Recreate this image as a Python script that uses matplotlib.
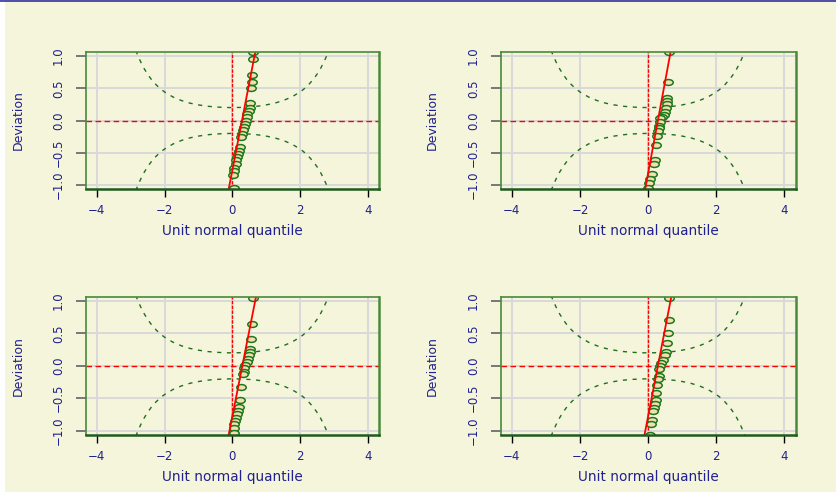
import matplotlib
matplotlib.use('Agg')
import matplotlib.pyplot as plt
from matplotlib.path import Path
from matplotlib.transforms import Affine2D
from matplotlib.lines import Line2D
from matplotlib.patches import Rectangle

# worm plot points: unit normal quantile / deviation
tl_q = [0.62, 0.61, 0.59, 0.58, 0.56, 0.53, 0.51, 0.50, 0.44, 0.42, 0.39, 0.36, 0.34,
        0.31, 0.28, 0.26, 0.22, 0.19, 0.16, 0.14, 0.12, 0.10, 0.06, 0.04, 0.02, 0.05]
tl_dev = [1.06, 0.95, 0.71, 0.60, 0.50, 0.27, 0.19, 0.14, 0.10, 0.06, 0.00, -0.05, -0.10,
          -0.15, -0.21, -0.26, -0.41, -0.47, -0.52, -0.57, -0.62, -0.68, -0.73, -0.78, -0.85, -1.04]

tr_q = [0.60, 0.59, 0.56, 0.55, 0.55, 0.53, 0.50, 0.46, 0.42, 0.36, 0.34, 0.31, 0.33,
        0.29, 0.27, 0.24, 0.20, 0.17, 0.10, 0.06, 0.03, 0.00]
tr_dev = [1.06, 0.60, 0.35, 0.30, 0.25, 0.20, 0.13, 0.09, 0.06, 0.04, -0.02, -0.08, -0.12,
          -0.17, -0.24, -0.38, -0.62, -0.68, -0.83, -0.91, -0.97, -1.04]

bl_q = [0.60, 0.58, 0.56, 0.53, 0.51, 0.50, 0.46, 0.43, 0.38, 0.35, 0.33, 0.31, 0.26,
        0.24, 0.21, 0.16, 0.14, 0.11, 0.09, 0.06, 0.04, 0.04]
bl_dev = [1.04, 0.64, 0.41, 0.26, 0.21, 0.16, 0.11, 0.06, 0.02, -0.04, -0.09, -0.13, -0.32,
          -0.52, -0.64, -0.70, -0.75, -0.80, -0.85, -0.90, -0.96, -1.03]

br_q = [0.60, 0.60, 0.58, 0.55, 0.51, 0.48, 0.43, 0.38, 0.35, 0.33, 0.31, 0.28, 0.26,
        0.24, 0.22, 0.19, 0.16, 0.14, 0.11, 0.07, 0.04]
br_dev = [1.05, 0.70, 0.50, 0.36, 0.21, 0.16, 0.09, 0.04, -0.01, -0.05, -0.16, -0.21, -0.29,
          -0.42, -0.52, -0.59, -0.65, -0.70, -0.83, -0.90, -1.06]

# fitted line: quantile where it leaves the bottom and the top of the box
fit_dev = [-1.07, 1.07]
tl_fit = [-0.11, 0.68]
tr_fit = [-0.09, 0.66]
bl_fit = [-0.11, 0.70]
br_fit = [-0.11, 0.68]

# confidence band (upper half, right side)
ci_q = [0, 0.25, 0.5, 0.75, 1.0, 1.25, 1.5, 1.75, 2.0, 2.1, 2.25, 2.4, 2.5, 2.6, 2.7, 2.8, 2.85]
ci_dev = [0.200, 0.203, 0.210, 0.222, 0.242, 0.269, 0.309, 0.364, 0.442, 0.482, 0.554,
          0.644, 0.717, 0.802, 0.903, 1.020, 1.087]

x_ticks = [-4, -2, 0, 2, 4]
y_ticks = [-1.0, -0.5, 0.0, 0.5, 1.0]

BEIGE = '#F5F5DC'
NAVY = '#202090'
GREEN = '#1f6f1f'
NARROW = ['Liberation Sans Narrow', 'DejaVu Sans']

W, H = 836, 492
fig = plt.figure(figsize=(W / 100, H / 100), dpi=100, facecolor=BEIGE)
fig.patches.append(Rectangle((0, 0), 5 / W, 1, transform=fig.transFigure,
                             facecolor='white', edgecolor='none'))
fig.lines.append(Line2D([0, 1], [1 - 0.8 / H, 1 - 0.8 / H], transform=fig.transFigure,
                        color='#3030a0', lw=1.2))

# ellipse marker (the circles are squashed in the reference)
ell = Path.unit_circle().transformed(Affine2D().scale(1.0, 0.62))

ci_x = [-v for v in ci_q[::-1]] + ci_q[1:]
ci_y = ci_dev[::-1] + ci_dev[1:]

# pixel boxes: left, right, top, bottom
boxes = [(86, 379, 51.7, 189.3), (501, 795.7, 51.7, 189.3),
         (86, 379, 296.7, 435), (501, 795.7, 296.7, 435)]
series = [(tl_q, tl_dev, tl_fit), (tr_q, tr_dev, tr_fit),
          (bl_q, bl_dev, bl_fit), (br_q, br_dev, br_fit)]

for (l, r, t, b), (qs, ds, fit) in zip(boxes, series):
    ax = fig.add_axes([l / W, 1 - b / H, (r - l) / W, (b - t) / H])
    ax.set_facecolor(BEIGE)
    ax.set_xlim(-4.32, 4.33)
    ax.set_ylim(-1.067, 1.067)
    ax.set_xticks(x_ticks)
    ax.set_yticks(y_ticks)
    ax.set_xticklabels(['\u22124', '\u22122', '0', '2', '4'])
    ax.set_yticklabels(['\u22121.0', '\u22120.5', '0.0', '0.5', '1.0'])
    ax.grid(True, color='#d9d9d9', lw=1.4)
    ax.set_axisbelow(True)

    ax.plot(ci_x, ci_y, color=GREEN, lw=1.0, ls=(0, (3, 4)))
    ax.plot(ci_x, [-v for v in ci_y], color=GREEN, lw=1.0, ls=(0, (3, 4)))
    ax.axhline(0, color='red', lw=1.0, ls=(0, (4, 2.5)))
    ax.axvline(0, color='red', lw=1.0, ls=(0, (2.5, 1)))
    ax.plot(qs, ds, ls='none', marker=ell, ms=6.8, mfc='#F5DEB3', mec='#1a7a1a', mew=1.1)
    ax.plot(fit, fit_dev, color='red', lw=1.3)

    for s in ax.spines.values():
        s.set_color('#4a8a3a')
        s.set_linewidth(1.2)
    ax.spines['bottom'].set_color('#1f5a1f')
    ax.spines['bottom'].set_linewidth(1.8)
    ax.spines['right'].set_linewidth(1.8)

    ax.tick_params(axis='x', direction='out', length=5.5, width=1.0, color='black',
                   pad=5, labelsize=8.5, labelcolor=NAVY)
    ax.tick_params(axis='y', direction='out', length=7, width=1.4, color='#777777',
                   pad=8, labelsize=8.5, labelcolor=NAVY, labelrotation=90)
    for lab in ax.get_yticklabels():
        lab.set_va('center')
        lab.set_family(NARROW)

    ax.set_xlabel('Unit normal quantile', fontsize=9.8, color=NAVY, va='center')
    ax.xaxis.set_label_coords(0.5, -0.302)
    ax.set_ylabel('Deviation', fontsize=9, color=NAVY, va='center', family=NARROW)
    ax.yaxis.set_label_coords((18 - 86) / (r - l) if l < 400 else (432 - 501) / (r - l), 0.5)

fig.savefig('out.png', dpi=100, facecolor=BEIGE)
